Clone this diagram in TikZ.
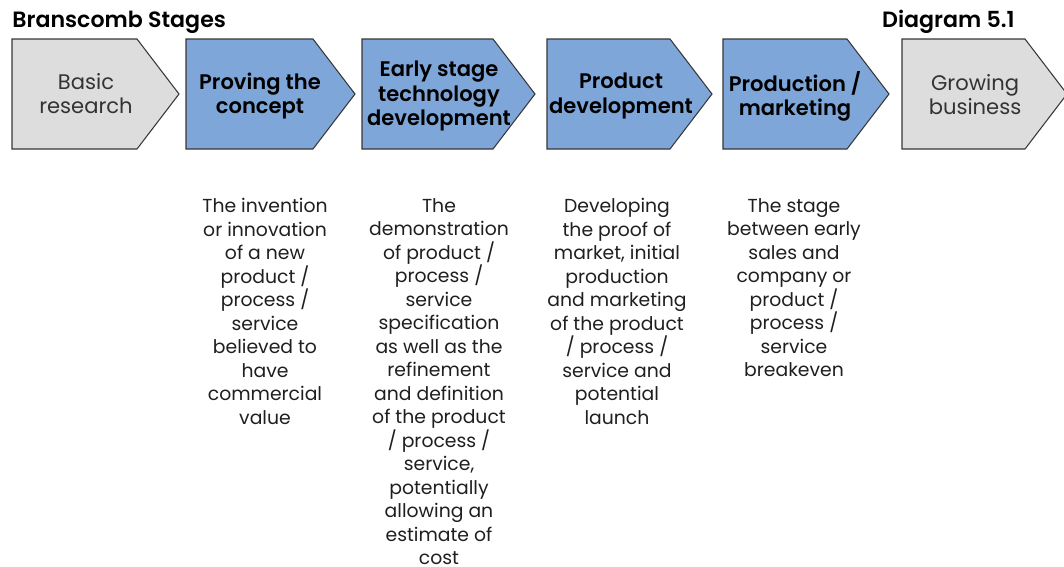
\documentclass[tikz,border=0pt]{standalone}
\usepackage{fontspec}
\setmainfont{Poppins}[BoldFont={Poppins SemiBold}]
\definecolor{stageblue}{RGB}{126,166,216}
\definecolor{stagegrey}{RGB}{221,221,221}
\definecolor{edgegrey}{RGB}{55,55,55}

\begin{document}
\begin{tikzpicture}[x=0.02cm,y=-0.02cm,
        stage/.style={draw=edgegrey,line width=0.6pt},
        greylabel/.style={align=center,inner sep=0pt,text=black!80,
            font=\fontsize{12}{13.7}\selectfont},
        bluelabel/.style={align=center,inner sep=0pt,
            font=\fontsize{12}{13.7}\selectfont\bfseries},
        blurb/.style={anchor=north,align=center,inner sep=0pt,text=black!88,
            font=\fontsize{10.7}{13.37}\selectfont},
        heading/.style={inner sep=0pt,font=\fontsize{12.6}{14}\selectfont\bfseries}]
        \useasboundingbox (0,0) rectangle (1064,566);

        % arrow boxes: left edge / length of the straight part / fill
        \foreach \x/\w/\c in {12/125/stagegrey,186/127/stageblue,362/131/stageblue,
                              547/123/stageblue,723/124/stageblue,902/123/stagegrey}
            \draw[stage,fill=\c] (\x,39) -- ++(\w,0) -- ++(42,55) -- ++(-42,55)
                -- ++(-\w,0) -- cycle;

        \node[heading,anchor=base west] (title)   at (12,27)   {Branscomb Stages};
        \node[heading,anchor=base east] (diagram) at (1015,27) {Diagram 5.1};

        \node[greylabel] (basic)      at (86,94)  {Basic\\research};
        \node[bluelabel] (proving)    at (260,96) {Proving the\\concept};
        \node[bluelabel] (early)      at (439,96) {Early stage\\technology\\development};
        \node[bluelabel] (product)    at (621,96) {Product\\development};
        \node[bluelabel] (production) at (795,96) {Production /\\marketing};
        \node[greylabel] (growing)    at (975,95) {Growing\\business};

        % what happens at each stage
        \node[blurb] (provingtext) at (265,198) {The invention\\or innovation\\of a new\\product /\\process /\\service\\believed to\\have\\commercial\\value};
        \node[blurb] (earlytext) at (439,198) {The\\demonstration\\of product /\\process /\\service\\specification\\as well as the\\refinement\\and definition\\of the product\\/ process /\\service,\\potentially\\allowing an\\estimate of\\cost};
        \node[blurb] (producttext) at (617,198) {Developing\\the proof of\\market, initial\\production\\and marketing\\of the product\\/ process /\\service and\\potential\\launch};
        \node[blurb] (productiontext) at (794,198) {The stage\\between early\\sales and\\company or\\product /\\process /\\service\\breakeven};
    \end{tikzpicture}
\end{document}
